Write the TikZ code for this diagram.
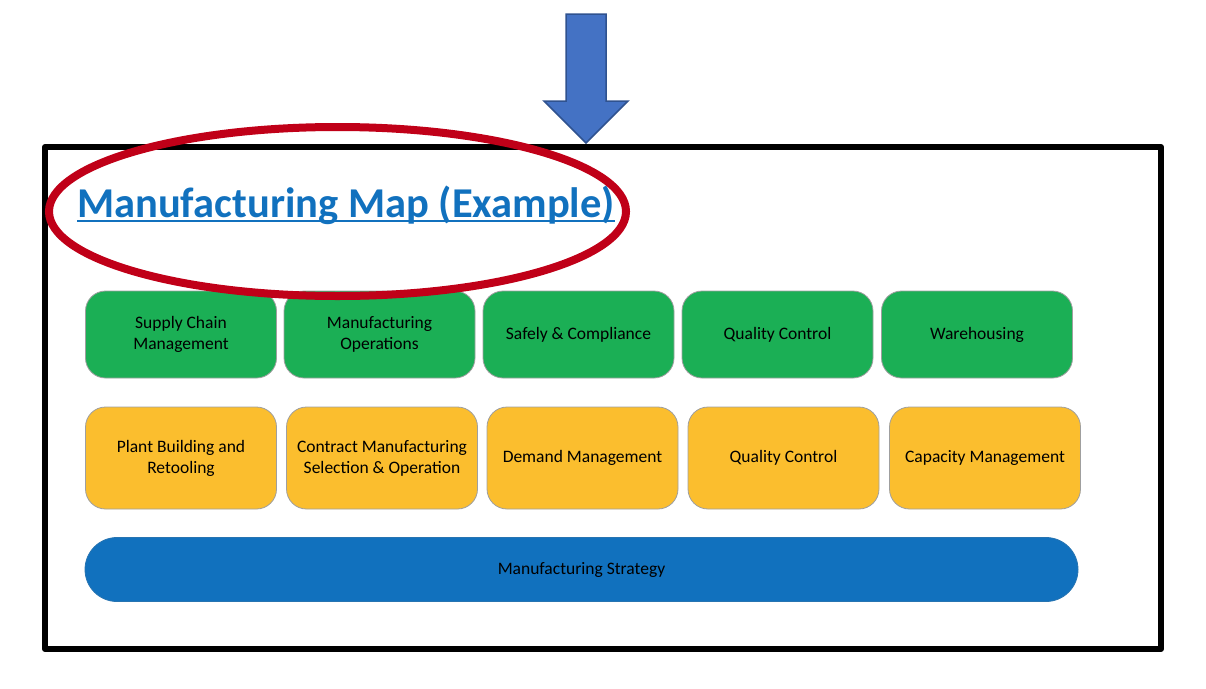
\documentclass[tikz,border=0pt]{standalone}
\usepackage{fontspec}
\setmainfont{Carlito}
\usetikzlibrary{shapes.geometric}
\definecolor{mapgreen}{RGB}{27,175,85}
\definecolor{maporange}{RGB}{251,190,46}
\definecolor{mapblue}{RGB}{17,113,190}
\definecolor{arrowblue}{RGB}{68,114,196}
\definecolor{arrowedge}{RGB}{47,82,143}
\definecolor{ovalred}{RGB}{192,0,24}
\begin{document}
\begin{tikzpicture}[x=1pt, y=-1pt,
    box/.style={draw=gray!75, line width=0.8pt, rounded corners=20pt, align=center,
      font=\fontsize{17.5}{21}\selectfont, text=black},
    greenbox/.style={box, fill=mapgreen, minimum width=191pt, minimum height=87pt},
    orangebox/.style={box, fill=maporange, minimum width=191pt, minimum height=102pt},
    strategybar/.style={box, fill=mapblue, draw=mapblue!80!gray, rounded corners=32pt,
      minimum width=993pt, minimum height=64pt}] %[scale=0.8]
      \useasboundingbox (0,0) rectangle (1206,688);
      \draw [line width=6pt, line join=round] (45,147) rectangle (1161,649);
      \node [greenbox] (g1) at (181,334.5) {Supply Chain\\Management};
      \node [greenbox] (g2) at (379.5,334.5) {Manufacturing\\Operations};
      \node [greenbox] (g3) at (578.5,334.5) {Safely \& Compliance};
      \node [greenbox] (g4) at (777.5,334.5) {Quality Control};
      \node [greenbox] (g5) at (977,334.5) {Warehousing};
      \node [orangebox] (o1) at (181,458) {Plant Building and\\Retooling};
      \node [orangebox] (o2) at (382,458) {Contract Manufacturing\\Selection \& Operation};
      \node [orangebox] (o3) at (582.5,458) {Demand Management};
      \node [orangebox] (o4) at (783.5,458) {Quality Control};
      \node [orangebox] (o5) at (985,458) {Capacity Management};
      \node [strategybar] (ms) at (581.5,569.5) {Manufacturing Strategy};
      \node [anchor=base west, inner sep=0pt, text=mapblue,
        font=\fontsize{42.5}{50}\selectfont\bfseries] (title) at (77,217)
        {Manufacturing Map (Example)};
      \draw [mapblue, line width=2.5pt] ([yshift=-4pt]title.base west) -- ([yshift=-4pt]title.base east);
      \draw [ovalred, line width=8pt] (337.5,211.5) ellipse [x radius=288.5pt, y radius=84.5pt];
      \draw [fill=arrowblue, draw=arrowedge, line width=1.5pt, line join=miter]
        (566,14) -- (606,14) -- (606,101) -- (628,101) -- (586,143)
        -- (544,101) -- (566,101) -- cycle;
    \end{tikzpicture}
\end{document}
